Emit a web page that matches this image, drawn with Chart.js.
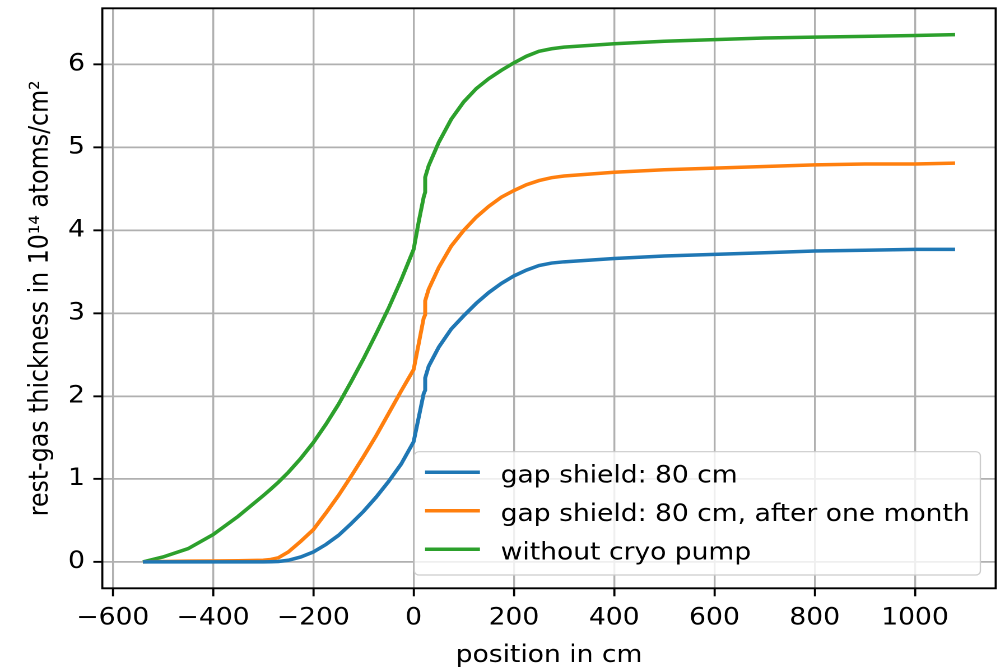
<!DOCTYPE html>
<html>
<head>
<meta charset="utf-8">
<script src="https://cdn.jsdelivr.net/npm/chart.js@4.4.1/dist/chart.umd.min.js"></script>
<style>
html, body { margin: 0; padding: 0; background: #fff; overflow: hidden; }
/* the reference is a 4:3 figure stretched to 3:2, so stretch the canvas the same way */
#wrap { position: absolute; left: 0; top: 0; width: 897px; height: 670px; transform: scaleX(1.1204); transform-origin: 0 0; }
</style>
</head>
<body>
<div id="wrap"><canvas id="chart"></canvas></div>
<script>
// position along the beam line, cm (23 appears twice: the step in all curves)
const positions = [-540, -500, -450, -400, -350, -300, -285, -270, -250, -225, -200, -175, -150, -125, -100, -75, -50, -25, 0, 10, 20, 23, 23, 30, 50, 75, 100, 125, 150, 175, 200, 225, 250, 275, 300, 400, 500, 600, 700, 800, 900, 1000, 1080];

// rest-gas thickness, 1e14 atoms/cm^2
const gapShield = [0, 0, 0, 0, 0, 0, 0.002, 0.005, 0.02, 0.06, 0.12, 0.21, 0.32, 0.46, 0.61, 0.78, 0.97, 1.18, 1.45, 1.74, 2.03, 2.07, 2.22, 2.36, 2.59, 2.81, 2.97, 3.12, 3.25, 3.36, 3.45, 3.52, 3.575, 3.605, 3.62, 3.66, 3.69, 3.71, 3.73, 3.75, 3.76, 3.77, 3.77];
const gapShieldMonth = [0, 0.005, 0.01, 0.012, 0.015, 0.02, 0.03, 0.05, 0.12, 0.25, 0.39, 0.59, 0.80, 1.03, 1.27, 1.52, 1.79, 2.06, 2.32, 2.63, 2.94, 2.98, 3.15, 3.29, 3.55, 3.81, 4.00, 4.16, 4.29, 4.40, 4.48, 4.55, 4.60, 4.635, 4.655, 4.70, 4.73, 4.75, 4.77, 4.79, 4.80, 4.80, 4.81];
const noCryoPump = [0, 0.06, 0.16, 0.33, 0.55, 0.80, 0.878, 0.96, 1.08, 1.25, 1.44, 1.66, 1.90, 2.17, 2.45, 2.75, 3.06, 3.40, 3.77, 4.10, 4.40, 4.46, 4.64, 4.78, 5.06, 5.34, 5.55, 5.71, 5.83, 5.93, 6.02, 6.10, 6.16, 6.19, 6.21, 6.25, 6.28, 6.30, 6.32, 6.33, 6.34, 6.35, 6.36];

const seriesNames = ['gap shield: 80 cm', 'gap shield: 80 cm, after one month', 'without cryo pump'];
const seriesColors = ['#1f77b4', '#ff7f0e', '#2ca02c'];

const xTicks = [-600, -400, -200, 0, 200, 400, 600, 800, 1000];
const yTicks = [0, 1, 2, 3, 4, 5, 6];

const FONT = 23.7;
const FAMILY = '"DejaVu Sans", sans-serif';

Chart.defaults.font.family = FAMILY;
Chart.defaults.font.size = FONT;
Chart.defaults.color = '#000';

function toPoints(values) {
    return positions.map((x, i) => ({ x: x, y: values[i] }));
}

function minusSign(v) {
    return v < 0 ? '\u2212' + Math.abs(v) : String(v);
}

// box round the plot and the legend in the lower right corner
const frameAndLegend = {
    id: 'frameAndLegend',
    afterDatasetsDraw(chart) {
        const ctx = chart.ctx;
        const a = chart.chartArea;
        ctx.save();
        ctx.strokeStyle = '#000';
        ctx.lineWidth = 1.9;
        ctx.strokeRect(a.left, a.top, a.right - a.left, a.bottom - a.top);

        ctx.font = FONT + 'px ' + FAMILY;
        const ds = chart.data.datasets;
        const textW = Math.max(...ds.map(d => ctx.measureText(d.label).width));
        const pad = 9.5, handle = 49, gap = 18.5, rowH = 38.5;
        const w = pad + handle + gap + textW + pad;
        const h = 123.3;
        const right = a.right - 13.7;
        const bottom = a.bottom - 13.3;
        const left = right - w;
        const top = bottom - h;

        ctx.beginPath();
        ctx.roundRect(left, top, w, h, 4);
        ctx.fillStyle = 'rgba(255,255,255,0.8)';
        ctx.fill();
        ctx.strokeStyle = '#cccccc';
        ctx.lineWidth = 1.2;
        ctx.stroke();

        ds.forEach((d, i) => {
            const y = top + 20.6 + i * rowH;
            ctx.strokeStyle = d.borderColor;
            ctx.lineWidth = 3.5;
            ctx.beginPath();
            ctx.moveTo(left + pad, y);
            ctx.lineTo(left + pad + handle, y);
            ctx.stroke();
            ctx.fillStyle = '#000';
            ctx.textAlign = 'left';
            ctx.textBaseline = 'alphabetic';
            ctx.fillText(d.label, left + pad + handle + gap, y + 10);
        });
        ctx.restore();
    }
};

const ctx = document.getElementById('chart').getContext('2d');
new Chart(ctx, {
    type: 'line',
    data: {
        datasets: [gapShield, gapShieldMonth, noCryoPump].map((vals, i) => ({
            label: seriesNames[i],
            data: toPoints(vals),
            borderColor: seriesColors[i],
            backgroundColor: seriesColors[i],
            borderWidth: 3.5,
            pointRadius: 0,
            tension: 0,
            fill: false
        }))
    },
    options: {
        responsive: true,
        maintainAspectRatio: false,
        animation: false,
        devicePixelRatio: 2,
        layout: { padding: { left: 0, top: 8.3, right: 8.3, bottom: 0 } },
        plugins: {
            legend: { display: false },
            tooltip: { enabled: false }
        },
        scales: {
            x: {
                type: 'linear',
                min: -621,
                max: 1161,
                afterBuildTicks: (s) => { s.ticks = xTicks.map(v => ({ value: v })); },
                afterFit: (s) => {
                    s.height = 81.7;
                    s.paddingLeft = 0;
                    s.paddingRight = 0;
                },
                ticks: {
                    autoSkip: false,
                    maxRotation: 0,
                    padding: 8,
                    callback: (v) => minusSign(v)
                },
                grid: {
                    color: '#b0b0b0',
                    lineWidth: 1.7,
                    tickColor: '#000',
                    tickWidth: 1.9,
                    tickLength: 8
                },
                border: { display: false },
                title: {
                    display: true,
                    text: 'position in cm',
                    padding: { top: 0, bottom: 0 }
                }
            },
            y: {
                type: 'linear',
                min: -0.318,
                max: 6.678,
                afterBuildTicks: (s) => { s.ticks = yTicks.map(v => ({ value: v })); },
                afterFit: (s) => {
                    s.width = 91.3;
                    s.paddingTop = 0;
                    s.paddingBottom = 0;
                },
                ticks: {
                    autoSkip: false,
                    padding: 7.5,
                    callback: (v) => minusSign(v)
                },
                grid: {
                    color: '#b0b0b0',
                    lineWidth: 1.7,
                    tickColor: '#000',
                    tickWidth: 1.9,
                    tickLength: 8
                },
                border: { display: false },
                title: {
                    display: true,
                    text: 'rest-gas thickness in 10\u00b9\u2074 atoms/cm\u00b2',
                    padding: { top: 22, bottom: 0 }
                }
            }
        }
    },
    plugins: [frameAndLegend]
});
</script>
</body>
</html>
